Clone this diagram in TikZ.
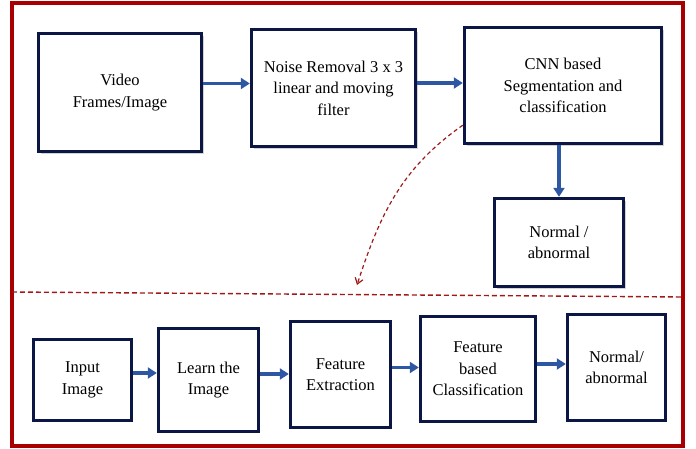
\documentclass[tikz,border=0pt]{standalone}
\usepackage{fontspec}
\setmainfont{Liberation Serif}
\usetikzlibrary{arrows.meta,shadows}
\definecolor{framered}{HTML}{A80000}
\definecolor{boxnavy}{HTML}{0C1644}
\definecolor{flowblue}{HTML}{2D56A3}
\definecolor{dashred}{HTML}{9E1A1A}
\begin{document}
\begin{tikzpicture}[x=1pt, y=1pt,
    block/.style={draw=boxnavy, line width=3.4pt, fill=white, align=center,
      inner sep=2pt, font=\fontsize{16.5}{21.5}\selectfont},
    shade box/.style={drop shadow={opacity=0.35, shadow xshift=2.5pt, shadow yshift=-2.5pt}},
    flow/.style={draw=flowblue, line width=3.2pt, -{Triangle[length=9pt,width=11pt]}}]
  \useasboundingbox (0,0) rectangle (696,448);

  % Outer frame
  \draw[framered, line width=3.2pt] (12,2) rectangle (683,445);

  % Upper chain
  \node[block, shade box, minimum width=163pt, minimum height=118pt] (video) at (120,355.5) {Video\\Frames/Image};
  \node[block, shade box, minimum width=164pt, minimum height=117pt] (noise) at (333.5,360) {Noise Removal 3 x 3\\linear and moving\\filter};
  \node[block, shade box, minimum width=197pt, minimum height=116pt] (cnn) at (563,362.5) {CNN based\\Segmentation and\\classification};
  \node[block, shade box, minimum width=129pt, minimum height=88pt] (nrmA) at (559,205.5) {Normal /\\abnormal};

  \draw[flow] ([yshift=9pt]video.east) -- ([yshift=9pt]video.east -| noise.west);
  \draw[flow] ([yshift=5pt]noise.east) -- ([yshift=5pt]noise.east -| cnn.west);
  \draw[flow] (cnn.south -| nrmA.north) -- (nrmA.north);

  % Separator and link down
  \draw[dashred, line width=1.4pt, dash pattern=on 5pt off 3pt] (12,156) -- (683,151);
  \coordinate (drop) at (357,163);
  \draw[dashred, line width=1.2pt, dash pattern=on 4pt off 3pt, -{Straight Barb[angle=70:7pt]}]
    ([yshift=20pt]cnn.south west) to[out=215, in=72] (drop);

  % Lower chain
  \node[block, minimum width=98pt, minimum height=81pt] (input) at (82.5,68) {Input\\Image};
  \node[block, minimum width=100pt, minimum height=103pt] (learn) at (208.5,68) {Learn the\\Image};
  \node[block, minimum width=100pt, minimum height=106pt] (featex) at (340.5,73.5) {Feature\\Extraction};
  \node[block, minimum width=115pt, minimum height=105pt] (featcls) at (478,79) {Feature\\based\\Classification};
  \node[block, minimum width=98pt, minimum height=106pt] (nrmB) at (616.5,80.5) {Normal/\\abnormal};

  \draw[flow] ([yshift=7pt]input.east) -- ([yshift=7pt]input.east -| learn.west);
  \draw[flow] ([yshift=6pt]learn.east) -- ([yshift=6pt]learn.east -| featex.west);
  \draw[flow] ([yshift=7pt]featex.east) -- ([yshift=7pt]featex.east -| featcls.west);
  \draw[flow] ([yshift=5pt]featcls.east) -- ([yshift=5pt]featcls.east -| nrmB.west);
\end{tikzpicture}
\end{document}
